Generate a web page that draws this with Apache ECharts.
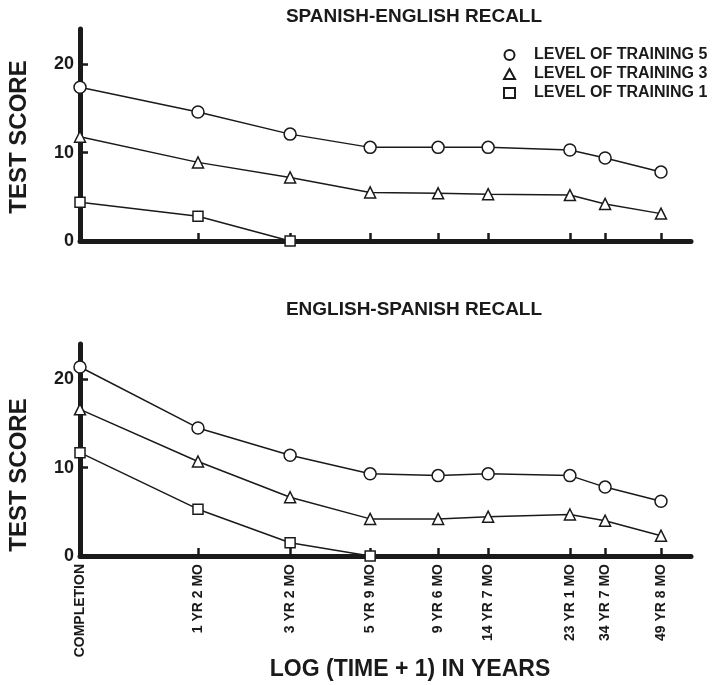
<!DOCTYPE html>
<html>
<head>
<meta charset="utf-8">
<script src="https://cdn.jsdelivr.net/npm/echarts@6/dist/echarts.min.js"></script>
<style>
  html, body { margin: 0; padding: 0; background: #fff; }
  #chart { width: 716px; height: 685px; }
</style>
</head>
<body>
<div id="chart"></div>
<script>
// Retention intervals along the time axis
const xLabels = ['COMPLETION', '1 YR 2 MO', '3 YR 2 MO', '5 YR 9 MO', '9 YR 6 MO',
                 '14 YR 7 MO', '23 YR 1 MO', '34 YR 7 MO', '49 YR 8 MO'];
// Position of each interval on the log (time + 1) scale
const logPos = [0, 0.342, 0.609, 0.841, 1.038, 1.183, 1.420, 1.522, 1.684];
const logMax = 1.771;

// Spanish-English recall scores
const seLevel5 = [17.4, 14.6, 12.1, 10.6, 10.6, 10.6, 10.3, 9.4, 7.8];
const seLevel3 = [11.8, 8.9, 7.2, 5.5, 5.4, 5.3, 5.2, 4.2, 3.1];
const seLevel1 = [4.4, 2.8, 0];

// English-Spanish recall scores
const esLevel5 = [21.4, 14.5, 11.4, 9.3, 9.1, 9.3, 9.1, 7.8, 6.2];
const esLevel3 = [16.6, 10.7, 6.65, 4.2, 4.2, 4.45, 4.7, 4.0, 2.3];
const esLevel1 = [11.7, 5.3, 1.5, 0];

const yTickValues = [10, 20];
const yLabelValues = [0, 10, 20];

const seriesNames = ['LEVEL OF TRAINING 5', 'LEVEL OF TRAINING 3', 'LEVEL OF TRAINING 1'];
const symbols = ['circle', 'triangle', 'rect'];
const symbolSizes = [12, 11, [10, 10]];

const INK = '#1a1a1a';
const FONT = '"Liberation Sans", Arial, Helvetica, sans-serif';

function pairs(values) {
  return values.map((v, i) => [logPos[i], v]);
}

function lineSeries(level, values, axisIdx) {
  return {
    name: seriesNames[level],
    type: 'line',
    xAxisIndex: axisIdx,
    yAxisIndex: axisIdx,
    data: pairs(values),
    symbol: symbols[level],
    symbolSize: symbolSizes[level],
    showAllSymbol: true,
    z: 5,
    lineStyle: { color: INK, width: 1.5 },
    itemStyle: { color: '#fff', borderColor: INK, borderWidth: 1.5 },
    emphasis: { disabled: true },
    animation: false
  };
}

function xAxisCfg(gridIndex, withLabels) {
  return {
    type: 'value',
    gridIndex: gridIndex,
    min: 0,
    max: logMax,
    splitLine: { show: false },
    axisLine: { show: true, lineStyle: { color: INK, width: 5 } },
    axisTick: {
      show: true, inside: true, length: 8,
      customValues: logPos.slice(1),
      lineStyle: { color: INK, width: 2.5 }
    },
    axisLabel: {
      show: withLabels,
      customValues: logPos,
      rotate: 90,
      margin: 8,
      hideOverlap: false,
      color: INK,
      fontFamily: FONT,
      fontWeight: 'bold',
      fontSize: 14,
      formatter: function (v) {
        for (let i = 0; i < logPos.length; i++) {
          if (Math.abs(logPos[i] - v) < 1e-6) return xLabels[i];
        }
        return '';
      }
    }
  };
}

function yAxisCfg(gridIndex) {
  return {
    type: 'value',
    gridIndex: gridIndex,
    min: 0,
    max: 24,
    splitLine: { show: false },
    axisLine: { show: true, lineStyle: { color: INK, width: 5 } },
    axisTick: {
      show: true, inside: true, length: 8,
      customValues: yTickValues,
      lineStyle: { color: INK, width: 2.5 }
    },
    axisLabel: {
      customValues: yLabelValues,
      margin: 6,
      color: INK,
      fontFamily: FONT,
      fontWeight: 'bold',
      fontSize: 18
    }
  };
}

function textEl(text, x, y, size, rotation) {
  return {
    type: 'text',
    x: x, y: y,
    rotation: rotation || 0,
    style: {
      text: text,
      fill: INK,
      font: 'bold ' + size + 'px ' + FONT,
      align: 'center',
      verticalAlign: 'middle'
    }
  };
}

const chart = echarts.init(document.getElementById('chart'), null, { renderer: 'canvas' });

chart.setOption({
  backgroundColor: '#fff',
  animation: false,
  grid: [
    { left: 80, right: 25, top: 29, height: 212 },
    { left: 80, right: 25, top: 344, height: 212 }
  ],
  xAxis: [xAxisCfg(0, false), xAxisCfg(1, true)],
  yAxis: [yAxisCfg(0), yAxisCfg(1)],
  legend: {
    orient: 'vertical',
    left: 498,
    top: 42,
    itemGap: 3,
    itemWidth: 11,
    itemHeight: 10,
    selectedMode: false,
    data: seriesNames.map((n, i) => ({ name: n, icon: symbols[i] })),
    textStyle: {
      color: INK,
      fontFamily: FONT,
      fontWeight: 'bold',
      fontSize: 16,
      lineHeight: 16,
      padding: [0, 0, 0, 14]
    }
  },
  graphic: [
    textEl('SPANISH-ENGLISH RECALL', 414, 17, 19),
    textEl('ENGLISH-SPANISH RECALL', 414, 310, 19),
    textEl('TEST SCORE', 19, 137, 24, Math.PI / 2),
    textEl('TEST SCORE', 19, 475, 24, Math.PI / 2),
    textEl('LOG (TIME + 1) IN YEARS', 410, 670, 23)
  ],
  series: [
    lineSeries(0, seLevel5, 0),
    lineSeries(1, seLevel3, 0),
    lineSeries(2, seLevel1, 0),
    lineSeries(0, esLevel5, 1),
    lineSeries(1, esLevel3, 1),
    lineSeries(2, esLevel1, 1)
  ]
});
</script>
</body>
</html>
